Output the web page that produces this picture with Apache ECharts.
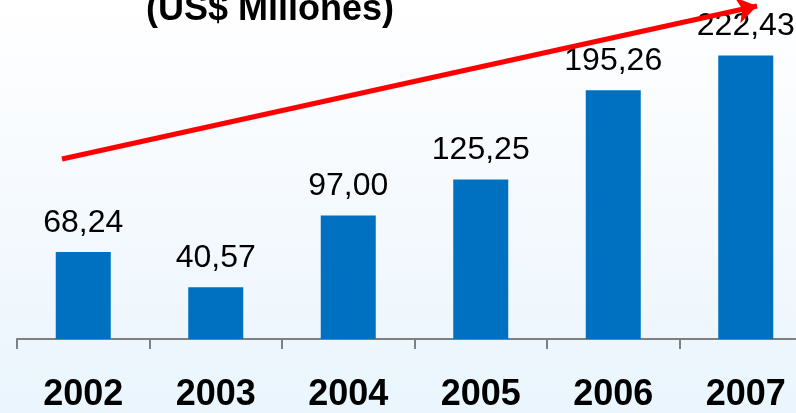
<!DOCTYPE html>
<html><head><meta charset="utf-8">
<script src="https://cdn.jsdelivr.net/npm/echarts@6/dist/echarts.min.js"></script>
<style>html,body{margin:0;padding:0;overflow:hidden;width:796px;height:413px;}#c{width:830px;height:413px;}</style>
</head><body><div id="c"></div>
<script>
var categories = ['2002','2003','2004','2005','2006','2007'];
var values = [68.24, 40.57, 97.00, 125.25, 195.26, 222.43];
var titleText = '(US$ Millones)';

var chart = echarts.init(document.getElementById('c'), null, {renderer:'canvas'});
chart.setOption({
  backgroundColor: {
    type: 'linear', x: 0, y: 0, x2: 0, y2: 1,
    colorStops: [{offset: 0, color: '#ffffff'}, {offset: 0.35, color: '#f8fbfe'}, {offset: 1, color: '#eaf5fd'}]
  },
  animation: false,
  grid: {left: 17, width: 795, top: 0, bottom: 69, containLabel: false},
  xAxis: {
    type: 'category', data: categories,
    axisLine: {lineStyle: {color: '#808080', width: 2}},
    axisTick: {show: true, length: 10, lineStyle: {color: '#808080', width: 2}},
    axisLabel: {fontFamily: 'Liberation Sans, Arial', fontSize: 36, fontWeight: 'bold', color: '#000', margin: 38}
  },
  yAxis: {type: 'value', min: 0, max: 266, show: false, splitLine: {show: false}},
  graphic: [{
    type: 'text',
    style: {text: titleText, x: 270, y: 28, textAlign: 'center', textVerticalAlign: 'bottom',
      font: 'bold 36px "Liberation Sans", Arial', fill: '#000'}
  }],
  series: [{
    type: 'bar', data: values, barWidth: 55,
    itemStyle: {color: '#0070C0'},
    label: {show: true, position: 'top', distance: 13, color: '#000', fontSize: 32,
      fontFamily: 'Liberation Sans, Arial',
      formatter: function(p){ return p.value.toFixed(2).replace('.', ','); }},
    markLine: {
      silent: true, symbol: ['none', 'arrow'], symbolSize: [0, 0],
      label: {show: false},
      lineStyle: {color: '#ff0000', width: 5, type: 'solid'},
      data: [[{x: 62, y: 159, symbol: 'none'}, {x: 757, y: 6, symbol: 'arrow', symbolSize: 20}]]
    }
  }]
});
</script></body></html>
